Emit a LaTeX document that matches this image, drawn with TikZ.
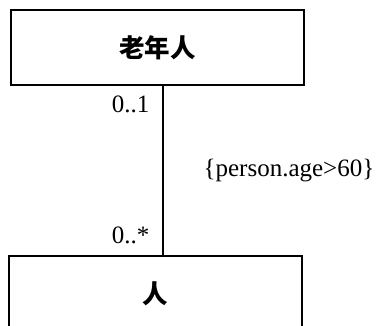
\documentclass[tikz,border=0pt]{standalone}
\usepackage{fontspec}
\setmainfont{Liberation Serif}
\newfontfamily\cjk{Noto Sans CJK SC}
\usetikzlibrary{positioning}
\tikzset{
	classbox/.style={draw,line width=1.3pt,minimum width=293pt,minimum height=75pt,inner sep=0pt,
		font=\cjk\bfseries\fontsize{25.5}{30}\selectfont},
	mult/.style={inner sep=0pt,font=\fontsize{25}{28}\selectfont}
}

\begin{document}
\begin{tikzpicture}[x=1pt,y=-1pt,line width=1.3pt]
	\useasboundingbox (0,0) rectangle (376,326);
	\node[classbox] (old) at (157.5,47.5) {老年人};
	\node[classbox] (person) at (155.5,293.5) {人};
	\coordinate (lnk) at (163,0);
	\draw (old.south -| lnk) -- (person.north -| lnk);
	\node[mult,anchor=east] (m1) at (150,104) {0..1};
	\node[mult,anchor=east] (m2) at (150,235) {0..*};
	\node[mult,anchor=west] (cons) at (203,171) {\{person.age>60\}};
\end{tikzpicture}
\end{document}
